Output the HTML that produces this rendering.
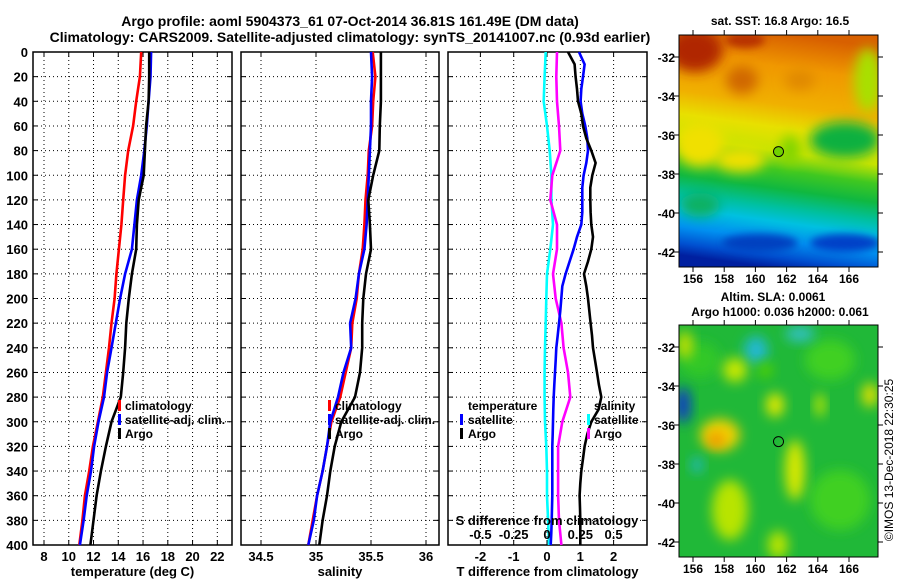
<!DOCTYPE html>
<html><head><meta charset="utf-8">
<style>
html,body{margin:0;padding:0;background:#fff;}
svg{display:block;font-family:"Liberation Sans",sans-serif;font-weight:bold;}
</style></head>
<body>
<svg id="chart" width="900" height="580" viewBox="0 0 900 580" xmlns="http://www.w3.org/2000/svg">
<defs>
  <filter id="blur6" x="-50%" y="-50%" width="200%" height="200%"><feGaussianBlur stdDeviation="6"/></filter>
  <filter id="blur4" x="-50%" y="-50%" width="200%" height="200%"><feGaussianBlur stdDeviation="4"/></filter>
  <clipPath id="clipTop"><rect x="679" y="35" width="199" height="232"/></clipPath>
  <clipPath id="clipBot"><rect x="679" y="325" width="199" height="232"/></clipPath>
  <linearGradient id="sstGrad" x1="0.56" y1="0" x2="0.44" y2="1">
    <stop offset="0" stop-color="#d86000"/>
    <stop offset="0.14" stop-color="#f09800"/>
    <stop offset="0.3" stop-color="#f0b000"/>
    <stop offset="0.4" stop-color="#e8e000"/>
    <stop offset="0.5" stop-color="#c8e400"/>
    <stop offset="0.58" stop-color="#40c820"/>
    <stop offset="0.66" stop-color="#10b840"/>
    <stop offset="0.74" stop-color="#00c0a0"/>
    <stop offset="0.8" stop-color="#00c0e0"/>
    <stop offset="0.88" stop-color="#0090f0"/>
    <stop offset="0.95" stop-color="#0050d0"/>
    <stop offset="1" stop-color="#0020a0"/>
  </linearGradient>
</defs>
<g id="titles">
  <text x="350" y="26" font-size="14" text-anchor="middle">Argo profile: aoml 5904373_61 07-Oct-2014 36.81S 161.49E (DM data)</text>
  <text x="350" y="42" font-size="14" text-anchor="middle">Climatology: CARS2009. Satellite-adjusted climatology: synTS_20141007.nc (0.93d earlier)</text>
</g>
<g id="panels"></g>
<g id="maps">
  <text x="780" y="25" font-size="12" text-anchor="middle">sat. SST: 16.8 Argo: 16.5</text>
  <g clip-path="url(#clipTop)">
    <rect x="679" y="35" width="199" height="232" fill="url(#sstGrad)"/>
    <ellipse cx="695" cy="50" rx="28" ry="22" fill="#b02800" filter="url(#blur6)"/>
    <ellipse cx="745" cy="40" rx="20" ry="8" fill="#b83000" filter="url(#blur4)"/>
    <ellipse cx="742" cy="80" rx="16" ry="14" fill="#d06800" filter="url(#blur6)"/>
    <ellipse cx="800" cy="80" rx="15" ry="10" fill="#e08800" filter="url(#blur6)"/>
    <ellipse cx="868" cy="80" rx="14" ry="32" fill="#a8e000" filter="url(#blur6)"/>
    <ellipse cx="700" cy="145" rx="25" ry="22" fill="#f0e000" filter="url(#blur6)"/>
    <ellipse cx="740" cy="160" rx="25" ry="12" fill="#f0e000" filter="url(#blur6)"/>
    <ellipse cx="845" cy="140" rx="35" ry="18" fill="#10b040" filter="url(#blur6)"/>
    <ellipse cx="790" cy="150" rx="10" ry="15" fill="#80d400" filter="url(#blur6)"/>
    <ellipse cx="700" cy="205" rx="20" ry="12" fill="#10b060" filter="url(#blur6)"/>
    <ellipse cx="760" cy="243" rx="38" ry="9" fill="#0040c0" filter="url(#blur4)"/>
    <ellipse cx="845" cy="243" rx="35" ry="9" fill="#0040c8" filter="url(#blur4)"/>
  </g>
  <rect x="679" y="35" width="199" height="232" fill="none" stroke="#000" stroke-width="1"/>
  <circle cx="778.5" cy="151.6" r="5" fill="#70d000" stroke="#000" stroke-width="1"/>

  <text x="773" y="301" font-size="12" text-anchor="middle">Altim. SLA: 0.0061</text>
  <text x="780" y="316" font-size="12" text-anchor="middle">Argo h1000: 0.036 h2000: 0.061</text>
  <g clip-path="url(#clipBot)">
    <rect x="679" y="325" width="199" height="232" fill="#20b838"/>
    <ellipse cx="700" cy="360" rx="20" ry="18" fill="#30c828" filter="url(#blur6)"/>
    <ellipse cx="830" cy="360" rx="25" ry="20" fill="#40d020" filter="url(#blur6)"/>
    <ellipse cx="840" cy="500" rx="30" ry="30" fill="#40d020" filter="url(#blur6)"/>
    <ellipse cx="685" cy="345" rx="8" ry="14" fill="#c0e000" filter="url(#blur6)"/>
    <ellipse cx="683" cy="405" rx="8" ry="18" fill="#1040c0" filter="url(#blur6)"/>
    <ellipse cx="756" cy="350" rx="12" ry="14" fill="#20b8d0" filter="url(#blur6)"/>
    <ellipse cx="800" cy="334" rx="15" ry="8" fill="#30c0c0" filter="url(#blur6)"/>
    <ellipse cx="735" cy="370" rx="12" ry="12" fill="#c8e800" filter="url(#blur6)"/>
    <ellipse cx="720" cy="435" rx="20" ry="16" fill="#f0d000" filter="url(#blur6)"/>
    <ellipse cx="716" cy="440" rx="8" ry="7" fill="#f09000" filter="url(#blur6)"/>
    <ellipse cx="697" cy="465" rx="6" ry="8" fill="#20b8c0" filter="url(#blur6)"/>
    <ellipse cx="775" cy="405" rx="9" ry="12" fill="#e0e800" filter="url(#blur6)"/>
    <ellipse cx="795" cy="470" rx="10" ry="30" fill="#d8e800" filter="url(#blur6)"/>
    <ellipse cx="820" cy="405" rx="5" ry="12" fill="#c0e800" filter="url(#blur6)"/>
    <ellipse cx="870" cy="395" rx="8" ry="12" fill="#e0e000" filter="url(#blur6)"/>
    <ellipse cx="730" cy="510" rx="18" ry="30" fill="#b8e400" filter="url(#blur6)"/>
    <ellipse cx="778" cy="545" rx="10" ry="14" fill="#b8e400" filter="url(#blur6)"/>
    <ellipse cx="765" cy="370" rx="8" ry="8" fill="#50d000" filter="url(#blur6)"/>
  </g>
  <rect x="679" y="325" width="199" height="232" fill="none" stroke="#000" stroke-width="1"/>
  <circle cx="778.5" cy="441.6" r="5" fill="none" stroke="#000" stroke-width="1"/>
  <text transform="translate(893,460) rotate(-90)" font-size="12" font-weight="normal" text-anchor="middle">©IMOS 13-Dec-2018 22:30:25</text>
</g>
<script>
// ---- data ----
const depths = [0,20,40,60,80,100,120,140,160,180,200,220,240,260,280,300,320,340,360,380,400];
const tempClim = [15.85,15.75,15.45,15.2,14.8,14.55,14.4,14.25,14.05,13.85,13.7,13.45,13.25,13.0,12.75,12.35,11.95,11.65,11.3,11.1,10.85];
const tempSat = [16.65,16.6,16.45,16.3,16.1,15.85,15.5,15.3,15.1,14.55,14.15,13.8,13.45,13.1,12.85,12.4,12.05,11.8,11.45,11.2,10.9];
const tempArgo = [16.5,16.5,16.45,16.25,16.15,16.05,15.65,15.5,15.45,15.1,14.85,14.65,14.55,14.4,14.2,13.45,13.0,12.6,12.25,12.0,11.75];
const salClim = [35.515,35.54,35.52,35.51,35.48,35.47,35.45,35.44,35.425,35.39,35.37,35.33,35.32,35.27,35.22,35.14,35.10,35.06,35.01,34.97,34.93];
const salSat = [35.50,35.51,35.50,35.50,35.49,35.48,35.47,35.46,35.44,35.39,35.36,35.31,35.32,35.25,35.20,35.13,35.10,35.06,35.01,34.98,34.93];
const salArgo = [35.59,35.59,35.59,35.58,35.575,35.52,35.475,35.49,35.50,35.455,35.43,35.42,35.42,35.40,35.355,35.23,35.17,35.13,35.10,35.06,35.03];
const depthsFine = [0,10,20,30,40,50,60,70,80,90,100,110,120,130,140,150,160,170,180,190,200,210,220,230,240,250,260,270,280,290,300,310,320,330,340,350,360,370,380,390,400];
const tDiffSat = [0.96,1.13,1.08,1.03,1.01,1.06,1.15,1.21,1.23,1.18,1.10,1.06,1.06,1.06,1.03,0.90,0.80,0.68,0.56,0.46,0.43,0.40,0.36,0.32,0.28,0.26,0.24,0.22,0.20,0.19,0.18,0.17,0.16,0.16,0.16,0.16,0.16,0.15,0.14,0.13,0.11];
const tDiffArgo = [0.63,0.83,0.86,0.90,0.93,1.03,1.08,1.18,1.33,1.46,1.36,1.30,1.30,1.31,1.33,1.38,1.33,1.23,1.11,1.18,1.23,1.27,1.31,1.35,1.38,1.44,1.50,1.56,1.63,1.55,1.33,1.21,1.13,1.08,1.03,1.00,0.98,0.99,1.00,1.00,1.00];
const sDiffSat = [-0.01,-0.018,-0.025,0,0.02,0.033,0.033,0.045,0.025,0,-0.005,-0.01,-0.015,-0.018,-0.018,-0.015,-0.005,0,0,0.008,0.015];
const sDiffArgo = [0.075,0.07,0.075,0.09,0.10,0.04,0.025,0.075,0.075,0.045,0.065,0.108,0.125,0.158,0.175,0.115,0.083,0.083,0.083,0.09,0.108];
const depthTicks = [0,20,40,60,80,100,120,140,160,180,200,220,240,260,280,300,320,340,360,380,400];
const tempTicks = [8,10,12,14,16,18,20,22];
const salTicks = [34.5,35,35.5,36];
const tDiffTicks = [-2,-1,0,1,2];
const sDiffTicks = [-0.5,-0.25,0,0.25,0.5];
const lonTicks = [156,158,160,162,164,166];
const latTicks = [-32,-34,-36,-38,-40,-42];

// ---- scales ----
const NS = "http://www.w3.org/2000/svg";
const Y0 = 52, Y1 = 545;
const yD = d => Y0 + d * (Y1 - Y0) / 400;
const xT = v => 44 + (v - 8) * 12.38;
const xS = v => 316 + (v - 35) * 110;
const xTD = v => 547 + v * 33.3;
const xSD = v => 547 + v * 133.2;
const lonX = v => 693 + (v - 156) * 15.6;
const latYTop = v => 57 + (-32 - v) * 19.5;
const latYBot = v => 347 + (-32 - v) * 19.5;

const root = document.getElementById('panels');
function mk(tag, attrs, parent) {
  const e = document.createElementNS(NS, tag);
  for (const k in attrs) e.setAttribute(k, attrs[k]);
  (parent || root).appendChild(e);
  return e;
}
function txt(str, x, y, anchor, size, parent) {
  const t = mk('text', {x: x, y: y, 'text-anchor': anchor, 'font-size': size}, parent);
  t.textContent = str;
  return t;
}

const panels = [
  {name:'temperature', x0:33, x1:232, ticks:tempTicks, sx:xT, label:'temperature (deg C)'},
  {name:'salinity', x0:241, x1:439, ticks:salTicks, sx:xS, label:'salinity'},
  {name:'difference', x0:448, x1:647, ticks:tDiffTicks, sx:xTD, label:'T difference from climatology'}
];

panels.forEach(p => {
  const g = mk('g', {});
  
  
  depthTicks.forEach(d => {
    if (d === 0 || d === 400) return;
    const l = mk('line', {x1:p.x0, x2:p.x1, y1:yD(d), y2:yD(d), stroke:'#000', 'stroke-width':1, 'stroke-dasharray':'1,3'}, g);
    
    
    mk('line', {x1:p.x0, x2:p.x0+5, y1:yD(d), y2:yD(d), stroke:'#000'}, g);
    mk('line', {x1:p.x1-5, x2:p.x1, y1:yD(d), y2:yD(d), stroke:'#000'}, g);
  });
  p.ticks.forEach(v => {
    const l = mk('line', {x1:p.sx(v), x2:p.sx(v), y1:Y0, y2:Y1, stroke:'#000', 'stroke-width':1, 'stroke-dasharray':'1,3'}, g);
    
    
    mk('line', {x1:p.sx(v), x2:p.sx(v), y1:Y1-5, y2:Y1, stroke:'#000'}, g);
    mk('line', {x1:p.sx(v), x2:p.sx(v), y1:Y0, y2:Y0+5, stroke:'#000'}, g);
    const t = txt(String(v), p.sx(v), 561, 'middle', 13, g);
    
    
  });
  const fr = mk('rect', {x:p.x0, y:Y0, width:p.x1-p.x0, height:Y1-Y0, fill:'none', stroke:'#000', 'stroke-width':1.5}, g);
  
  
  const xl = txt(p.label, (p.x0+p.x1)/2, 576, 'middle', 13, g);
  
  
});

depthTicks.forEach(d => {
  const t = txt(String(d), 28, yD(d)+5, 'end', 13);
  
  
});

function series(vals, ds, sx, color, name) {
  const pts = vals.map((v, i) => sx(v).toFixed(1) + ',' + yD(ds[i]).toFixed(1)).join(' ');
  const l = mk('polyline', {points: pts, fill:'none', stroke:color, 'stroke-width':2.6, 'stroke-linejoin':'miter'});
  
  
}
series(tempClim, depths, xT, '#ff0000', 'temperature-climatology-line');
series(tempSat, depths, xT, '#0000ff', 'temperature-satellite-line');
series(tempArgo, depths, xT, '#000000', 'temperature-argo-line');
series(salClim, depths, xS, '#ff0000', 'salinity-climatology-line');
series(salSat, depths, xS, '#0000ff', 'salinity-satellite-line');
series(salArgo, depths, xS, '#000000', 'salinity-argo-line');
series(sDiffSat, depths, xSD, '#00ffff', 'salinity-diff-satellite-line');
series(sDiffArgo, depths, xSD, '#ff00ff', 'salinity-diff-argo-line');
series(tDiffSat, depthsFine, xTD, '#0000ff', 'temperature-diff-satellite-line');
series(tDiffArgo, depthsFine, xTD, '#000000', 'temperature-diff-argo-line');

const st = txt('S difference from climatology', 547, 525, 'middle', 13);


sDiffTicks.forEach(v => {
  const t = txt(String(v), xSD(v), 539, 'middle', 13);
  
  
});

function legend(entries, bx, tx, name) {
  entries.forEach((e, i) => {
    const y = 410 + i * 14;
    if (e[1]) {
      const b = mk('rect', {x:bx, y:y-10, width:3, height:11, fill:e[1]});
      
      
    }
    const t = txt(e[0], tx, y, 'start', 12);
    
    
  });
}
legend([['climatology','#ff0000'],['satellite-adj. clim.','#0000ff'],['Argo','#000']], 118, 125, 'temperature-legend');
legend([['climatology','#ff0000'],['satellite-adj. clim.','#0000ff'],['Argo','#000']], 328, 335, 'salinity-legend');
legend([['temperature',null],['satellite','#0000ff'],['Argo','#000']], 460, 468, 'tdiff-legend');
legend([['salinity',null],['satellite','#00ffff'],['Argo','#ff00ff']], 587, 594, 'sdiff-legend');

const mapsG = document.getElementById('maps');
[[35,267,latYTop],[325,557,latYBot]].forEach(m => {
  lonTicks.forEach(v => {
    mk('line', {x1:lonX(v), x2:lonX(v), y1:m[0]-5, y2:m[0], stroke:'#000'}, mapsG);
    mk('line', {x1:lonX(v), x2:lonX(v), y1:m[1], y2:m[1]+5, stroke:'#000'}, mapsG);
    const t = txt(String(v), lonX(v), m[1]+16, 'middle', 12, mapsG);
    
    
  });
  latTicks.forEach(v => {
    const y = m[2](v);
    mk('line', {x1:674, x2:679, y1:y, y2:y, stroke:'#000'}, mapsG);
    mk('line', {x1:878, x2:883, y1:y, y2:y, stroke:'#000'}, mapsG);
    const t = txt(String(v), 675, y+5, 'end', 12, mapsG);
    
    
  });
});
</script>
</svg>
</body></html>
